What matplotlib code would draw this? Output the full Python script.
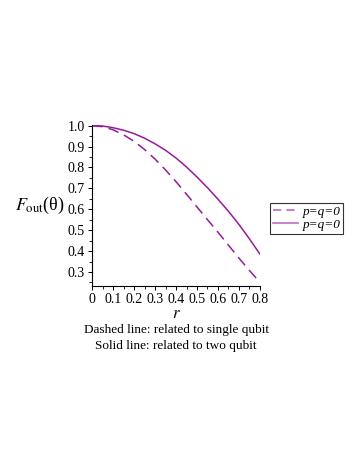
import numpy as np
import matplotlib
matplotlib.use('Agg')
import matplotlib.pyplot as plt
from matplotlib.lines import Line2D

plt.rcParams['font.family'] = ['Liberation Serif', 'DejaVu Serif']
plt.rcParams['mathtext.fontset'] = 'stix'

# r values and fidelity curves
r = [0.0, 0.05, 0.1, 0.15, 0.2, 0.25, 0.3, 0.35, 0.4, 0.45,
     0.5, 0.55, 0.6, 0.65, 0.7, 0.75, 0.8]
f_two = [1.0, 0.998, 0.99, 0.978, 0.962, 0.94, 0.913, 0.882, 0.845, 0.802,
         0.754, 0.703, 0.648, 0.59, 0.527, 0.458, 0.385]   # solid
f_single = [1.0, 0.995, 0.98, 0.956, 0.925, 0.886, 0.84, 0.788, 0.732, 0.672,
            0.611, 0.55, 0.49, 0.428, 0.366, 0.307, 0.25]  # dashed

xticks = [0, 0.1, 0.2, 0.3, 0.4, 0.5, 0.6, 0.7, 0.8]
xticklabels = ['0', '0.1', '0.2', '0.3', '0.4', '0.5', '0.6', '0.7', '0.8']
yticks = [0.3, 0.4, 0.5, 0.6, 0.7, 0.8, 0.9, 1.0]
legend_labels = ['p=q=0', 'p=q=0']

col = '#951c99'
col_leg = '#bd6cc3'

fig = plt.figure(figsize=(3.6, 4.66), dpi=100)
ax = fig.add_axes([0.2556, 0.3863, 0.4666, 0.3455])

ax.plot(r, f_single, color=col, lw=1.1, ls=(0, (7, 4)))
ax.plot(r, f_two, color=col, lw=1.1)

ax.set_xlim(0, 0.8)
ax.set_ylim(0.233, 1.003)
ax.spines['top'].set_visible(False)
ax.spines['right'].set_visible(False)
ax.spines['left'].set_linewidth(0.8)
ax.spines['bottom'].set_linewidth(0.8)

ax.set_xticks(xticks)
ax.set_xticklabels(xticklabels)
ax.set_yticks(yticks)
ax.set_yticklabels(['%.1f' % v for v in yticks])
ax.set_xticks(np.arange(0, 0.81, 0.05), minor=True)
ax.set_yticks(np.arange(0.25, 1.0, 0.05), minor=True)
ax.tick_params(which='major', direction='out', length=3, width=0.7, labelsize=10, pad=2)
ax.tick_params(which='minor', direction='out', length=2, width=0.6)

ax.set_xlabel('$r$', fontsize=12, labelpad=0)
# y label drawn horizontally to the left of the tick labels
ax.text(-0.16, 0.5, r'$F_{\mathrm{out}}$(θ)', transform=ax.transAxes,
        fontsize=13, ha='right', va='center')

fig.text(0.489, 0.291, 'Dashed line: related to single qubit', ha='center',
         va='center', fontsize=9.5)
fig.text(0.489, 0.257, 'Solid line: related to two qubit', ha='center',
         va='center', fontsize=9.5)

handles = [Line2D([], [], color=col_leg, lw=1.2, ls=(0, (5, 3))),
           Line2D([], [], color=col_leg, lw=1.2)]
leg = ax.legend(handles, legend_labels, loc='center left',
                bbox_to_anchor=(1.06, 0.42), frameon=True, fancybox=False,
                edgecolor='black', fontsize=9.5, handlelength=1.9,
                handletextpad=0.35, borderpad=0.2, labelspacing=0.05,
                borderaxespad=0)
leg.get_frame().set_linewidth(0.8)
for t in leg.get_texts():
    t.set_fontstyle('italic')

fig.savefig('out.png', dpi=100)
